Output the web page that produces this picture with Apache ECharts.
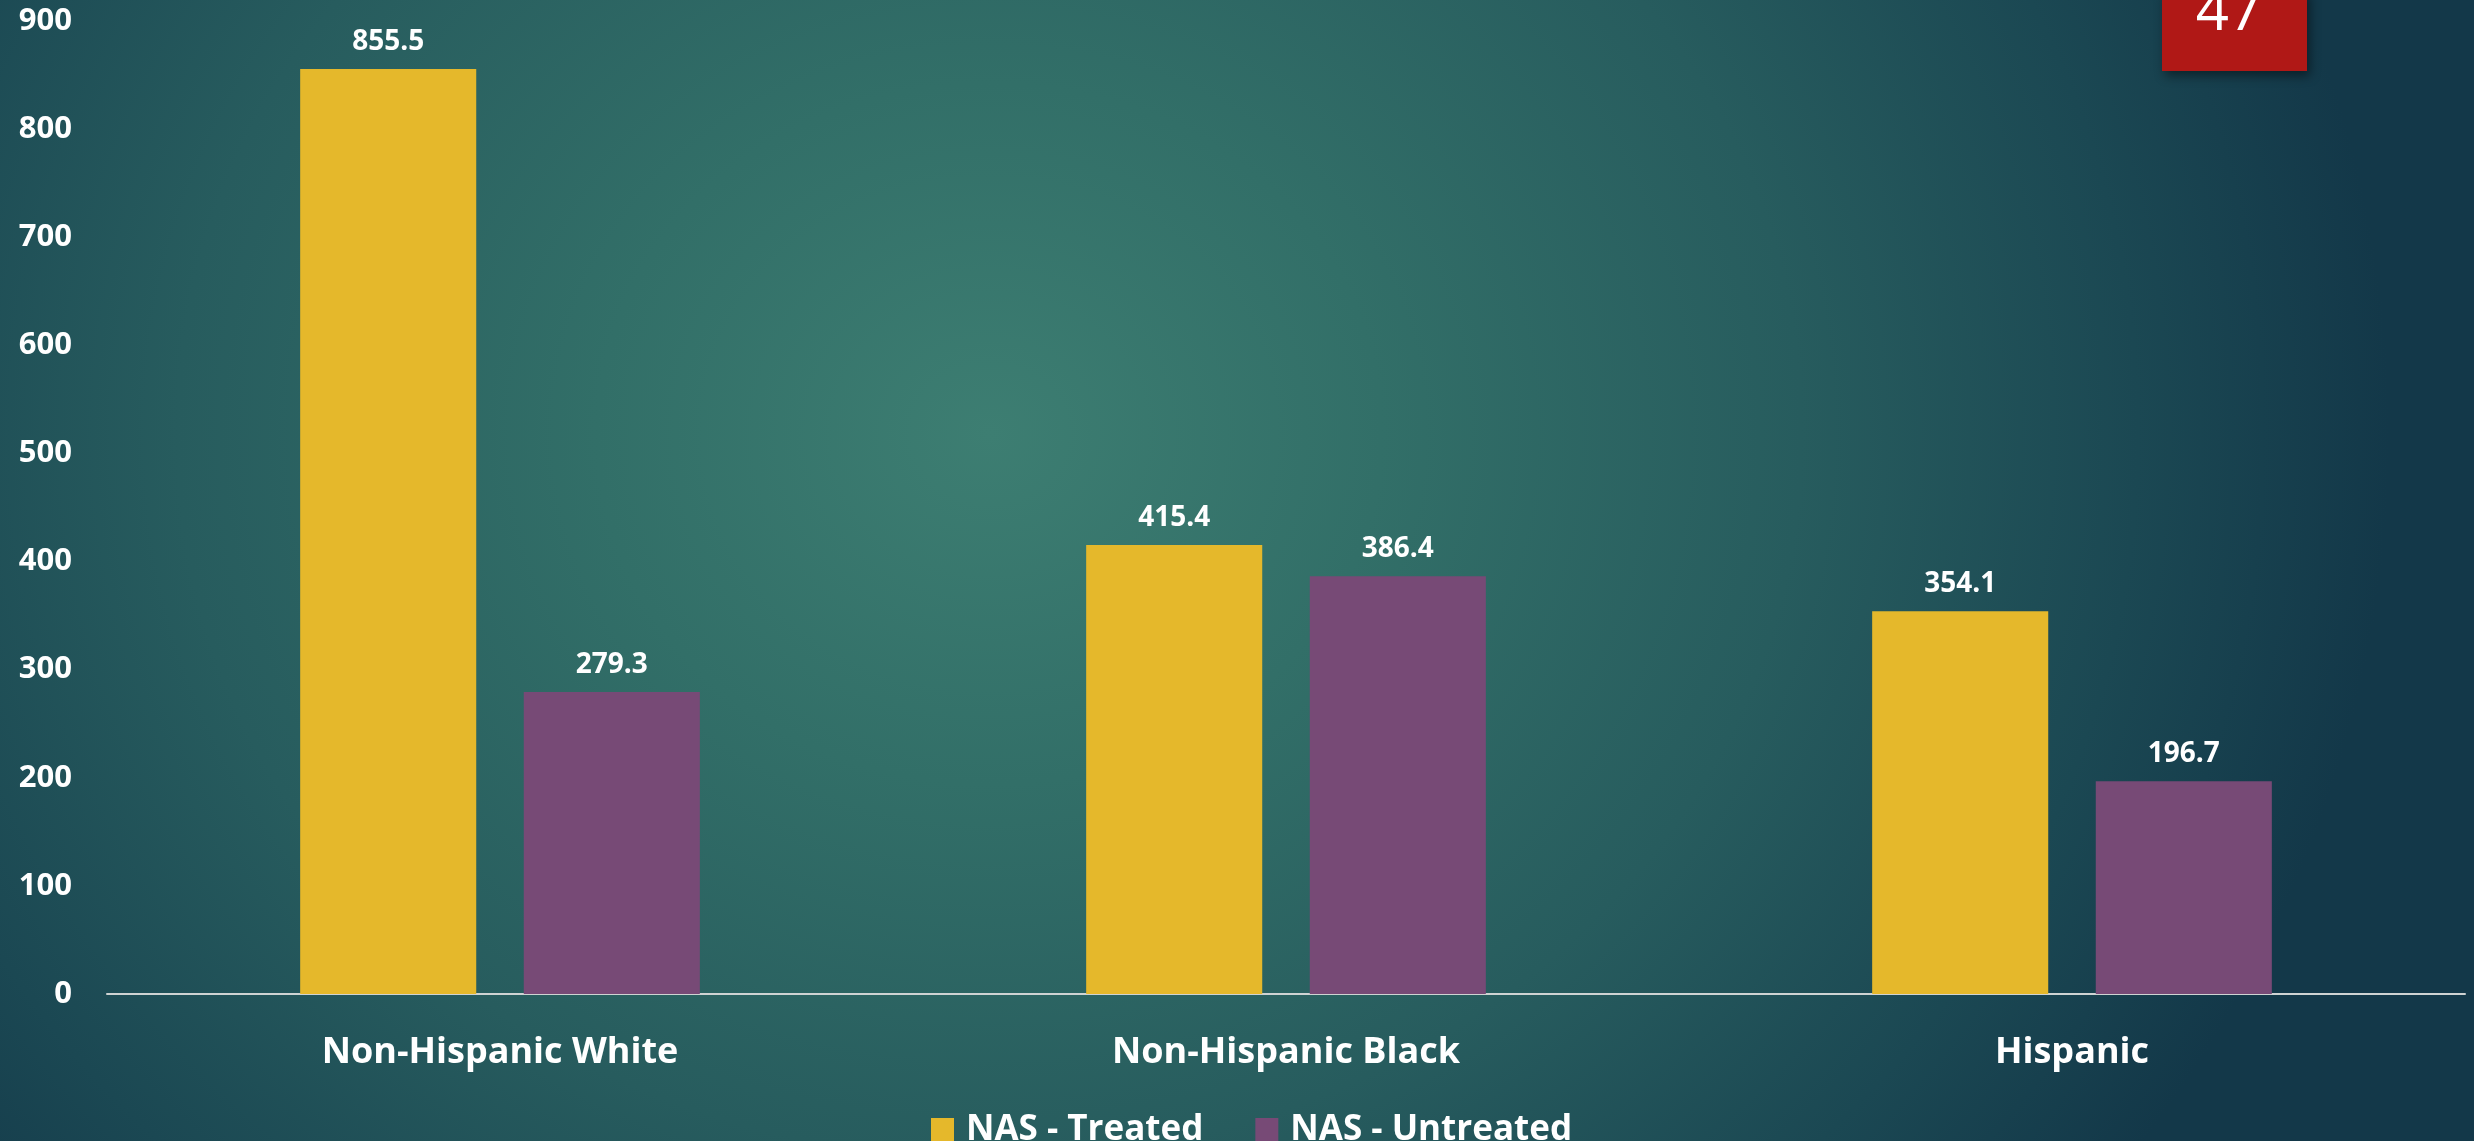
<!DOCTYPE html>
<html>
<head>
<meta charset="utf-8">
<title>NAS by race and ethnicity</title>
<script src="https://cdn.jsdelivr.net/npm/echarts@6/dist/echarts.min.js"></script>
<style>
  html, body { margin: 0; padding: 0; width: 100%; height: 100%; overflow: hidden; }
  body {
    background: radial-gradient(ellipse 1400px 1250px at 40% 38%,
      #3d7e72 0%, #326f68 28%, #275c5e 58%, #1b4853 82%, #133849 100%);
  }
  #chart { width: 2474px; height: 1141px; }
</style>
</head>
<body>
<div id="chart"></div>
<script>
// Rates per group, treated vs untreated neonatal abstinence syndrome
const categories = ['Non-Hispanic White', 'Non-Hispanic Black', 'Hispanic'];
const treated = [855.5, 415.4, 354.1];
const untreated = [279.3, 386.4, 196.7];
const seriesNames = ['NAS - Treated', 'NAS - Untreated'];
const yMin = 0, yMax = 900, yStep = 100;
const slideNumber = '47';

const FONT = '"Open Sans", "Noto Sans", sans-serif';
const chart = echarts.init(document.getElementById('chart'), null, { renderer: 'canvas' });

const valueLabel = {
  show: true,
  position: 'top',
  distance: 13,
  color: '#ffffff',
  fontFamily: FONT,
  fontWeight: 'bold',
  fontSize: 28
};

chart.setOption({
  backgroundColor: 'transparent',
  animation: false,
  grid: { left: 107, right: 9, top: 21, bottom: 147, containLabel: false },
  legend: {
    data: seriesNames,
    left: 926,
    top: 1106,
    icon: 'rect',
    itemWidth: 23,
    itemHeight: 24,
    itemGap: 52,
    textStyle: {
      color: '#ffffff',
      fontFamily: FONT,
      fontWeight: 'bold',
      fontSize: 35,
      lineHeight: 38,
      padding: [0, 0, 0, 7]
    }
  },
  xAxis: {
    type: 'category',
    data: categories,
    axisLine: { show: true, lineStyle: { color: '#cfd3d3', width: 2 } },
    axisTick: { show: false },
    axisLabel: {
      color: '#ffffff',
      fontFamily: FONT,
      fontWeight: 'bold',
      fontSize: 36,
      margin: 41
    },
    splitLine: { show: false }
  },
  yAxis: {
    type: 'value',
    min: yMin,
    max: yMax,
    interval: yStep,
    axisLine: { show: false },
    axisTick: { show: false },
    splitLine: { show: false },
    axisLabel: {
      color: '#ffffff',
      fontFamily: FONT,
      fontWeight: 'bold',
      fontSize: 31,
      align: 'right',
      margin: 35
    }
  },
  series: [
    {
      name: seriesNames[0],
      type: 'bar',
      data: treated,
      barWidth: '22.4%',
      barGap: '27%',
      itemStyle: { color: '#e5b82b' },
      label: valueLabel
    },
    {
      name: seriesNames[1],
      type: 'bar',
      data: untreated,
      barWidth: '22.4%',
      barGap: '27%',
      itemStyle: { color: '#774a76' },
      label: valueLabel
    }
  ],
  graphic: [
    {
      type: 'rect',
      shape: { x: 2162, y: -10, width: 145, height: 81 },
      style: {
        fill: '#b01816',
        shadowBlur: 10,
        shadowOffsetX: 3,
        shadowOffsetY: 5,
        shadowColor: 'rgba(0,0,0,0.45)'
      },
      z: 10
    },
    {
      type: 'text',
      x: 2229,
      y: 13,
      style: {
        text: slideNumber,
        fill: '#ffffff',
        font: 'normal 58px ' + FONT,
        align: 'center',
        verticalAlign: 'middle'
      },
      z: 11
    }
  ]
});
</script>
</body>
</html>
